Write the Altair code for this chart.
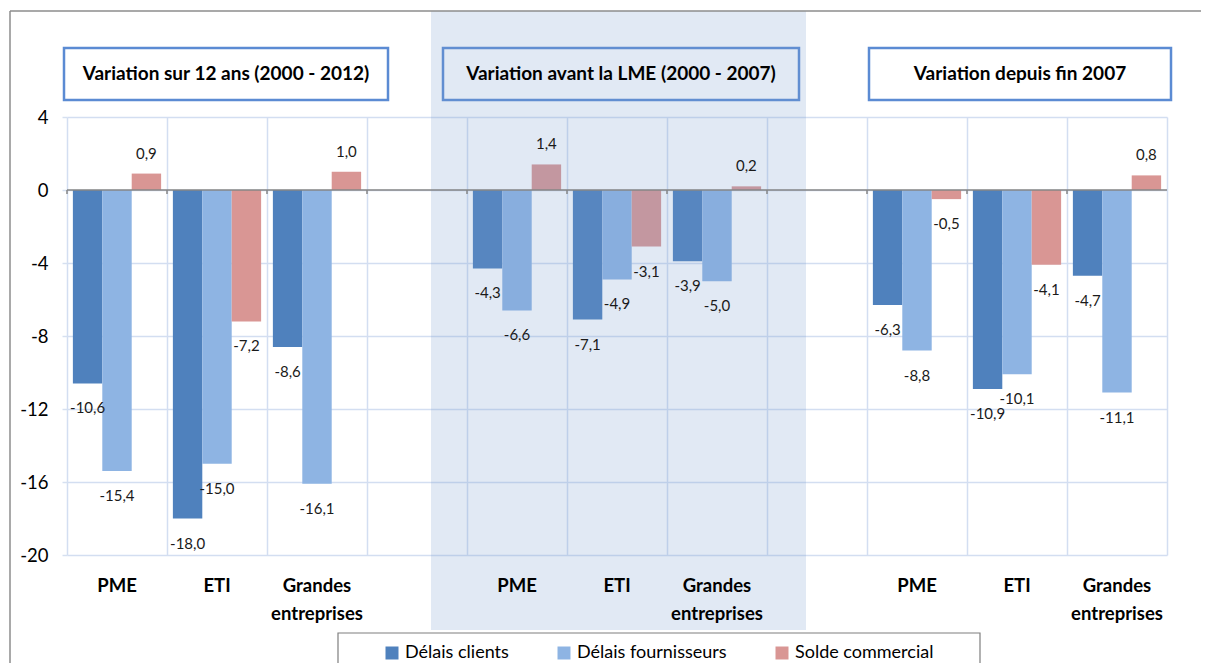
import altair as alt
import pandas as pd

groups = ["Variation sur 12 ans (2000 - 2012)",
          "Variation avant la LME (2000 - 2007)",
          "Variation depuis fin 2007"]
sizes = ["PME", "ETI", "Grandes entreprises"]
size_labels = ["PME", "ETI", "Grandes\nentreprises"]
series = ["Délais clients", "Délais fournisseurs", "Solde commercial"]
colors = ["#4F81BD", "#8EB4E3", "#D99694"]

delais_clients = [-10.6, -18.0, -8.6, -4.3, -7.1, -3.9, -6.3, -10.9, -4.7]
delais_fournisseurs = [-15.4, -15.0, -16.1, -6.6, -4.9, -5.0, -8.8, -10.1, -11.1]
solde_commercial = [0.9, -7.2, 1.0, 1.4, -3.1, 0.2, -0.5, -4.1, 0.8]

y_ticks = [4, 0, -4, -8, -12, -16, -20]

slots = []
for gi in range(len(groups)):
    if gi > 0:
        slots.append(f"gap{gi}")
    for s in sizes:
        slots.append(f"{gi}|{s}")

rows = []
for name, vals in zip(series, [delais_clients, delais_fournisseurs, solde_commercial]):
    for i, v in enumerate(vals):
        rows.append({"slot": f"{i // 3}|{sizes[i % 3]}", "series": name, "value": v,
                     "label": f"{v:.1f}".replace(".", ",")})
df = pd.DataFrame(rows)
cat_df = pd.DataFrame([{"slot": f"{gi}|{s}", "name": lab}
                       for gi in range(len(groups)) for s, lab in zip(sizes, size_labels)])
slot_df = pd.DataFrame({"slot": slots})
one = pd.DataFrame({"k": [0]})

FONT = "Lato"
W, H = 1100, 438

x_scale = alt.Scale(domain=slots, paddingInner=0, paddingOuter=0)
y_scale = alt.Scale(domain=[-20, 4], nice=False, zero=False)
xo = alt.XOffset("series:N", scale=alt.Scale(domain=series, paddingOuter=0.2, paddingInner=0))

bars = alt.Chart(df).mark_bar().encode(
    x=alt.X("slot:N", scale=x_scale, axis=alt.Axis(
        orient="bottom", domain=False, ticks=False, labels=False, grid=True,
        tickBand="extent", gridColor="#D3DEF1", gridWidth=1.5, title=None)),
    xOffset=xo,
    y=alt.Y("value:Q", scale=y_scale, axis=alt.Axis(
        values=y_ticks, format="d", grid=True, gridColor="#D3DEF1",
        gridWidth=1.5, tickColor="#D6E0F0", tickSize=5, tickWidth=1.5, domain=False,
        labelFont=FONT, labelFontSize=18.5, labelPadding=14, labelColor="black", title=None)),
    color=alt.Color("series:N", scale=alt.Scale(domain=series, range=colors), legend=alt.Legend(
        title=None, orient="none", legendX=316, legendY=527, direction="horizontal",
        columns=3, columnPadding=46, symbolType="square", symbolSize=169,
        symbolStrokeWidth=0, labelFont=FONT, labelFontSize=18, labelColor="black",
        labelOffset=4, padding=0, zindex=1)),
)

cat_labels = alt.Chart(cat_df).mark_text(
    font=FONT, fontWeight="bold", fontSize=18.5, color="black", baseline="top",
    lineBreak="\n", lineHeight=28).encode(
    x=alt.X("slot:N", scale=x_scale), y=alt.value(H + 22), text="name:N")

zero_line = alt.Chart(one).mark_rule(color="#868686", strokeWidth=1.5).encode(
    y=alt.datum(0), x=alt.value(0), x2=alt.value(W))

zero_ticks = alt.Chart(slot_df).mark_rule(color="#868686", strokeWidth=1.5).encode(
    x=alt.X("slot:N", scale=x_scale, bandPosition=0), y=alt.datum(0), y2=alt.datum(-0.22))

lab_neg = alt.Chart(df).transform_filter("datum.value < 0").mark_text(
    dy=25, font=FONT, fontSize=15, color="#1a1a1a", baseline="middle").encode(
    x=alt.X("slot:N", scale=x_scale),
    xOffset=xo, y=alt.Y("value:Q", scale=y_scale), text="label:N")

lab_pos = alt.Chart(df).transform_filter("datum.value >= 0").mark_text(
    dy=-20, font=FONT, fontSize=15, color="#1a1a1a", baseline="middle").encode(
    x=alt.X("slot:N", scale=x_scale),
    xOffset=xo, y=alt.Y("value:Q", scale=y_scale), text="label:N")

def rect(x, x2, y, y2, **kw):
    return alt.Chart(one).mark_rect(**kw).encode(
        x=alt.value(x), x2=alt.value(x2), y=alt.value(y), y2=alt.value(y2))

box_x = [(-3, 321), (376, 732), (802, 1104)]
boxes = [rect(a, b, -69, -17, fill="white", stroke="#5B8BD3", strokeWidth=2.5) for a, b in box_x]
overlay = rect(364, 739, -106, 513, fill="#779BCD", opacity=0.22)
legend_box = rect(271, 913, 516, 570, fillOpacity=0, stroke="#7F7F7F", strokeWidth=1.2)
box_texts = [alt.Chart(one).mark_text(font=FONT, fontWeight="bold", fontSize=19, color="black",
                                       align="center", baseline="middle").encode(
    x=alt.value((a + b) / 2), y=alt.value(-43), text=alt.value(g))
    for (a, b), g in zip(box_x, groups)]
border_top = alt.Chart(one).mark_rule(color="#8C8C8C", strokeWidth=1.5).encode(
    x=alt.value(-57), x2=alt.value(1142), y=alt.value(-106))
border_left = alt.Chart(one).mark_rule(color="#8C8C8C", strokeWidth=1.5).encode(
    x=alt.value(-57), y=alt.value(-106), y2=alt.value(560))

chart = alt.layer(
    bars, *boxes, overlay, legend_box, zero_line, zero_ticks, lab_neg, lab_pos, cat_labels,
    *box_texts, border_top, border_left
).properties(
    width=W, height=H,
    padding={"left": 59, "top": 109, "right": 34, "bottom": 108},
    autosize=alt.AutoSizeParams(type="none"),
).configure_view(stroke=None)

chart.save("out.html", embed_options={
    "renderer": "svg", "actions": False,
    "formatLocale": {"decimal": ",", "thousands": "\u00a0", "grouping": [3],
                     "currency": ["", "\u00a0€"], "minus": "-"}})
